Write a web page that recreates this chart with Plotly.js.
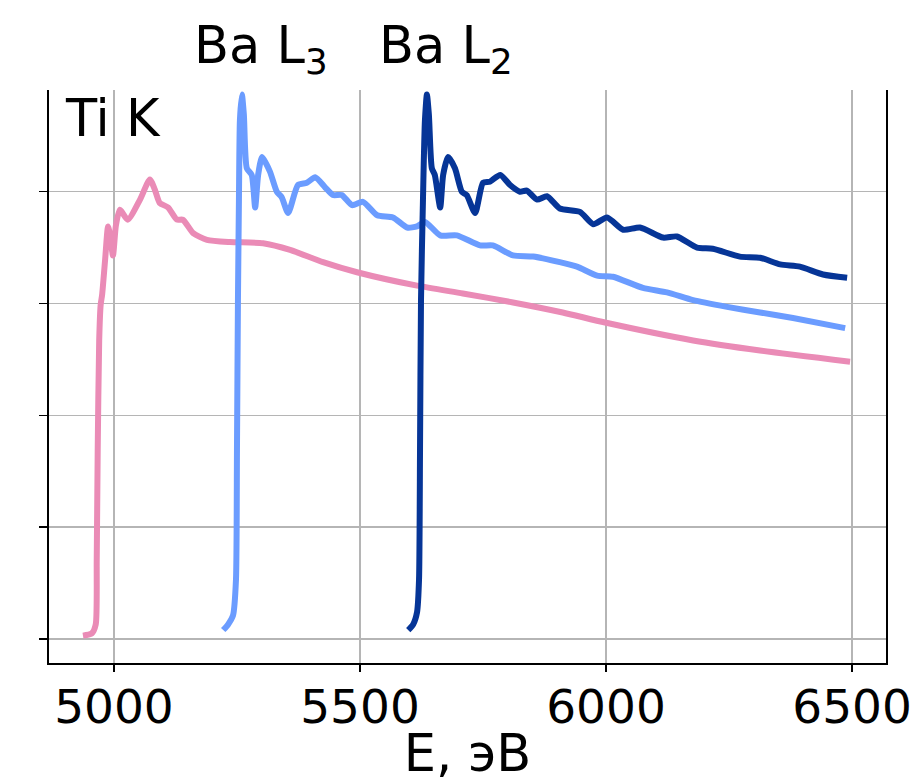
<!DOCTYPE html>
<html>
<head>
<meta charset="utf-8">
<script src="https://cdn.plot.ly/plotly-3.0.1.min.js"></script>
<style>html,body{margin:0;padding:0;background:#fff;}#chart{width:912px;height:783px;}</style>
</head>
<body>
<div id="chart"></div>
<script>
// Ti K edge (pink)
const tiE = [4937,4955,4963,4965,4967,4970,4973,4976,4982,4988,4992,4998,5004,5012,5028,5053,5073,5083,5093,5110,5128,5140,5161,5189,5236,5303,5358,5425,5494,5616,5709,5811,5912,5998,6177,6313,6496];
const tiMu = [0.03,0.05,0.13,0.71,1.69,2.67,2.99,3.08,3.39,3.69,3.61,3.43,3.70,3.84,3.75,3.93,4.11,4.02,3.90,3.86,3.75,3.75,3.63,3.57,3.55,3.54,3.48,3.37,3.28,3.16,3.09,3.01,2.92,2.83,2.67,2.58,2.48];

// Ba L3 edge (light blue)
const baL3E = [5222,5232,5242,5248,5250,5252,5254,5256,5260,5264,5270,5280,5287,5293,5301,5317,5331,5341,5354,5374,5392,5409,5429,5445,5463,5484,5506,5535,5567,5596,5616,5632,5663,5697,5744,5770,5811,5852,5906,5941,5982,6014,6075,6124,6177,6246,6313,6380,6486];
const baL3Mu = [0.08,0.13,0.21,0.53,1.69,3.03,3.93,4.64,4.87,4.69,4.21,4.15,3.86,4.15,4.31,4.18,4.00,3.95,3.81,4.06,4.08,4.13,4.04,3.97,3.97,3.88,3.91,3.79,3.77,3.68,3.69,3.73,3.61,3.61,3.52,3.52,3.43,3.42,3.37,3.33,3.25,3.24,3.14,3.10,3.03,2.97,2.92,2.87,2.78];

// Ba L2 edge (dark blue)
const baL2E = [5598,5608,5616,5620,5622,5624,5628,5632,5636,5640,5646,5652,5663,5669,5679,5693,5707,5717,5734,5750,5764,5785,5805,5825,5839,5860,5880,5906,5947,5974,6002,6035,6069,6116,6144,6185,6217,6272,6313,6354,6394,6441,6490];
const baL2Mu = [0.08,0.13,0.24,0.53,1.69,3.03,3.93,4.64,4.87,4.69,4.21,4.15,3.86,4.15,4.31,4.21,4.00,3.97,3.81,4.08,4.09,4.15,4.06,4.00,4.01,3.93,3.96,3.85,3.82,3.71,3.77,3.66,3.68,3.59,3.60,3.50,3.49,3.42,3.41,3.35,3.33,3.26,3.23];

const xTicks = [5000,5500,6000,6500];
const xTickText = ['5000','5500','6000','6500'];
const yTicks = [0,1,2,3,4];
const labels = ['Ti K','Ba L<sub>3</sub>','Ba L<sub>2</sub>'];
const xTitle = 'E, эВ';

const colors = ['#ea8bb6','#6b9cff','#063597'];
const FONT = 'DejaVu Sans, sans-serif';

const traces = [
  {x: tiE, y: tiMu, mode:'lines', line:{color:colors[0], width:6, shape:'spline', smoothing:0.6}},
  {x: baL3E, y: baL3Mu, mode:'lines', line:{color:colors[1], width:6, shape:'spline', smoothing:0.6}},
  {x: baL2E, y: baL2Mu, mode:'lines', line:{color:colors[2], width:6, shape:'spline', smoothing:0.6}}
];

const layout = {
  width: 912, height: 783,
  margin: {l:49, r:26, t:90, b:120},
  paper_bgcolor:'#fff', plot_bgcolor:'#fff',
  showlegend:false,
  font:{family:FONT, color:'#000', size:47},
  xaxis:{
    range:[4868,6569], tickvals:xTicks, ticktext:xTickText,
    showgrid:true, gridcolor:'#b5b5b5', gridwidth:1.5,
    zeroline:false, showline:true, linecolor:'#000', linewidth:2, mirror:false,
    ticks:'outside', ticklen:7, tickwidth:1.5, tickcolor:'#000',
    ticklabelstandoff:-5,
    tickfont:{family:FONT, size:47, color:'#000'},
    title:{text:xTitle, font:{family:FONT, size:51, color:'#000'}, standoff:10}
  },
  yaxis:{
    range:[-0.215,4.91], tickvals:yTicks, showticklabels:false,
    showgrid:true, gridcolor:'#b5b5b5', gridwidth:1.5,
    zeroline:false, showline:true, linecolor:'#000', linewidth:2, mirror:true,
    ticks:'outside', ticklen:8, tickwidth:1.5, tickcolor:'#000'
  },
  annotations:[
    {text:labels[0], xref:'paper', yref:'paper', x:0.017, y:0.95, xanchor:'left', yanchor:'middle', showarrow:false, font:{family:FONT, size:51, color:'#000'}},
    {text:labels[1], xref:'paper', yref:'paper', x:0.171, y:1.072, xanchor:'left', yanchor:'middle', showarrow:false, font:{family:FONT, size:51, color:'#000'}},
    {text:labels[2], xref:'paper', yref:'paper', x:0.392, y:1.072, xanchor:'left', yanchor:'middle', showarrow:false, font:{family:FONT, size:51, color:'#000'}}
  ]
};

Plotly.newPlot('chart', traces, layout, {displayModeBar:false, staticPlot:true});
</script>
</body>
</html>
